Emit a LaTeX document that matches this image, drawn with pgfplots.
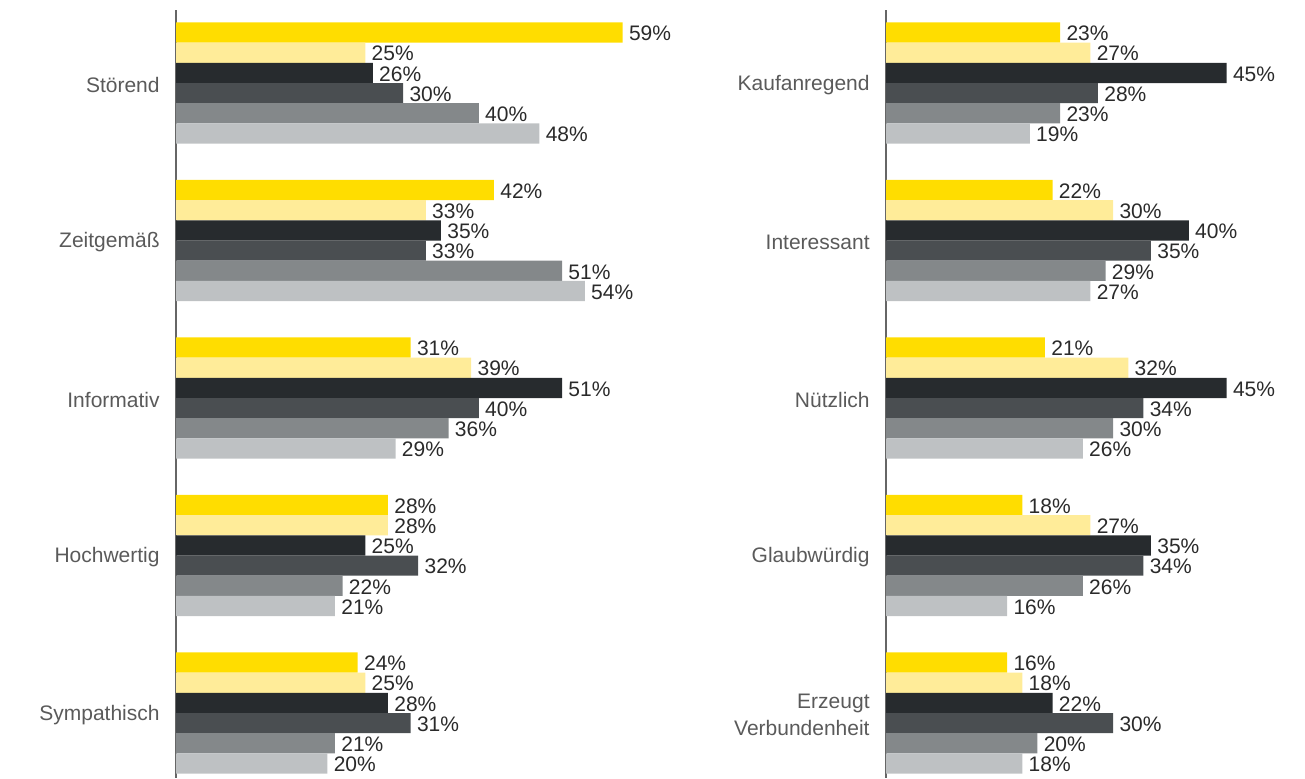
\documentclass[border=0pt]{standalone}
\usepackage{fontspec}
\setmainfont{Liberation Sans}
\usepackage{pgfplots}
\usepackage{pgfplotstable}
\pgfplotsset{compat=1.18}

\definecolor{cA}{HTML}{FFDD00}
\definecolor{cB}{HTML}{FFEC99}
\definecolor{cC}{HTML}{272B2E}
\definecolor{cD}{HTML}{4A4E51}
\definecolor{cE}{HTML}{84888A}
\definecolor{cF}{HTML}{BEC1C3}
\definecolor{labelgray}{HTML}{5A5A5A}
\definecolor{valdark}{HTML}{2A2A2A}

% left panel: Störend, Zeitgemäß, Informativ, Hochwertig, Sympathisch
\pgfplotstableread{
y a  b  c  d  e  f
0 59 25 26 30 40 48
1 42 33 35 33 51 54
2 31 39 51 40 36 29
3 28 28 25 32 22 21
4 24 25 28 31 21 20
}\lefttab
% right panel: Kaufanregend, Interessant, Nützlich, Glaubwürdig, Erzeugt Verbundenheit
\pgfplotstableread{
y a  b  c  d  e  f
0 23 27 45 28 23 19
1 22 30 40 35 29 27
2 21 32 45 34 30 26
3 18 27 35 34 26 16
4 16 18 22 30 20 18
}\righttab

\pgfplotsset{
  panel/.style={
    xbar, scale only axis,
    height=384pt,
    xmin=0, ymin=-0.4635, ymax=4.4127,
    y dir=reverse,
    axis x line=none,
    axis y line=left,
    y axis line style={-, color=black!60, line width=0.8pt},
    ytick={0,1,2,3,4},
    major tick length=0pt,
    yticklabel style={align=right, color=labelgray, inner sep=0pt, xshift=-8pt,
      yshift=-1pt, font=\fontsize{10.5}{13.5}\selectfont},
    bar width=10.1pt,
    clip=false,
    /pgf/number format/assume math mode=true,
    nodes near coords={\pgfmathprintnumber{\pgfplotspointmeta}\%},
    every node near coord/.append style={anchor=west, inner sep=0pt, xshift=3pt,
      yshift=-0.5pt, color=valdark, font=\fontsize{10.5}{12}\selectfont},
  },
}

\begin{document}
\begin{tikzpicture}
\begin{axis}[panel, at={(88pt,-5pt)}, anchor=north west,
  width=227.1pt, xmax=60,
  yticklabels={Störend, Zeitgemäß, Informativ, Hochwertig, Sympathisch}]
  \addplot[fill=cA, draw=none, bar shift=25.25pt] table[x=a, y=y] {\lefttab};
  \addplot[fill=cB, draw=none, bar shift=15.15pt] table[x=b, y=y] {\lefttab};
  \addplot[fill=cC, draw=none, bar shift=5.05pt] table[x=c, y=y] {\lefttab};
  \addplot[fill=cD, draw=none, bar shift=-5.05pt] table[x=d, y=y] {\lefttab};
  \addplot[fill=cE, draw=none, bar shift=-15.15pt] table[x=e, y=y] {\lefttab};
  \addplot[fill=cF, draw=none, bar shift=-25.25pt] table[x=f, y=y] {\lefttab};
\end{axis}
\begin{axis}[panel, at={(443pt,-5pt)}, anchor=north west,
  width=189.25pt, xmax=50,
  yticklabels={Kaufanregend, Interessant, Nützlich, Glaubwürdig, {Erzeugt\\Verbundenheit}}]
  \addplot[fill=cA, draw=none, bar shift=25.25pt] table[x=a, y=y] {\righttab};
  \addplot[fill=cB, draw=none, bar shift=15.15pt] table[x=b, y=y] {\righttab};
  \addplot[fill=cC, draw=none, bar shift=5.05pt] table[x=c, y=y] {\righttab};
  \addplot[fill=cD, draw=none, bar shift=-5.05pt] table[x=d, y=y] {\righttab};
  \addplot[fill=cE, draw=none, bar shift=-15.15pt] table[x=e, y=y] {\righttab};
  \addplot[fill=cF, draw=none, bar shift=-25.25pt] table[x=f, y=y] {\righttab};
\end{axis}
\pgfresetboundingbox
\path (0pt,0pt) rectangle (652.5pt,-389pt);
\end{tikzpicture}
\end{document}
